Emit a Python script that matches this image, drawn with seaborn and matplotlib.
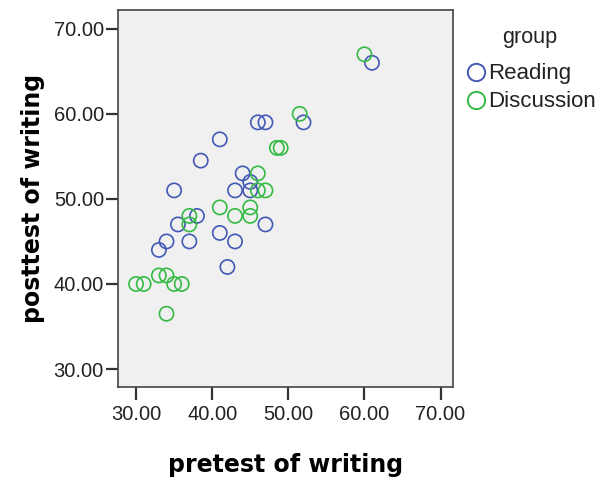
import numpy as np
import pandas as pd
import matplotlib
matplotlib.use("Agg")
import matplotlib.pyplot as plt
import seaborn as sns
from matplotlib.lines import Line2D
from matplotlib.ticker import FormatStrFormatter

# values
reading_pre = [46, 47, 52, 61, 41, 38.5, 44, 45, 35, 43, 45, 38, 35.5, 47, 41, 43, 34, 37, 33, 42]
reading_post = [59, 59, 59, 66, 57, 54.5, 53, 52, 51, 51, 51, 48, 47, 47, 46, 45, 45, 45, 44, 42]
discussion_pre = [60, 51.5, 48.5, 49, 46, 46, 47, 41, 45, 43, 45, 37, 37, 30, 31, 33, 34, 35, 36, 34]
discussion_post = [67, 60, 56, 56, 53, 51, 51, 49, 49, 48, 48, 48, 47, 40, 40, 41, 41, 40, 40, 36.5]
groups = ["Reading", "Discussion"]
palette = {"Reading": "#4259B5", "Discussion": "#35BA45"}
ticks = [30, 40, 50, 60, 70]

df = pd.DataFrame({
    "pretest": reading_pre + discussion_pre,
    "posttest": reading_post + discussion_post,
    "group": ["Reading"] * len(reading_pre) + ["Discussion"] * len(discussion_pre),
})

sns.set_style("white")
plt.rcParams['font.family'] = ['Liberation Sans', 'DejaVu Sans']

fig = plt.figure(figsize=(5.98, 4.8), dpi=100)
ax = fig.add_axes([0.197, 0.194, 0.56, 0.785])
ax.set_facecolor("#F0F0F0")

sns.scatterplot(data=df, x="pretest", y="posttest", hue="group", hue_order=groups,
                palette=palette, s=105, linewidth=1.2, legend=False, ax=ax)

# hollow circles like SPSS
for coll in ax.collections:
    fc = coll.get_facecolors()
    coll.set_edgecolors(fc)
    coll.set_facecolors("none")

ax.set_xlim(27.6, 71.6)
ax.set_ylim(27.9, 72.2)
ax.set_xticks(ticks)
ax.set_yticks(ticks)
ax.xaxis.set_major_formatter(FormatStrFormatter("%.2f"))
ax.yaxis.set_major_formatter(FormatStrFormatter("%.2f"))
ax.tick_params(axis="both", direction="out", length=9, width=1.6, color="#333333",
               labelsize=14.5, labelcolor="#222222", left=True, bottom=True)
ax.tick_params(axis="y", pad=1)
ax.tick_params(axis="x", pad=4)
for sp in ax.spines.values():
    sp.set_color("#444444")
    sp.set_linewidth(1.2)

ax.set_xlabel("pretest of writing", fontsize=17, fontweight="bold", family="DejaVu Sans",
              color="black", labelpad=21)
ax.set_ylabel("posttest of writing", fontsize=17, fontweight="bold", family="DejaVu Sans",
              color="black", labelpad=6)

# legend outside on the right, title drawn separately
handles = [Line2D([], [], marker="o", linestyle="none", markersize=12.5,
                  markerfacecolor="none", markeredgecolor=palette[g], markeredgewidth=1.4)
           for g in groups]
leg = fig.legend(handles, groups, loc="upper left",
                 bbox_to_anchor=(0.778, 0.868), frameon=False, fontsize=16,
                 handletextpad=0.05, handlelength=1.0,
                 labelspacing=0.32, borderaxespad=0, borderpad=0)
for t in leg.get_texts():
    t.set_color("#222222")
fig.text(530 / 598, 1 - 37 / 480, "group", fontsize=15.5, color="#222222",
         ha="center", va="center")

fig.savefig("out.png", dpi=100)
